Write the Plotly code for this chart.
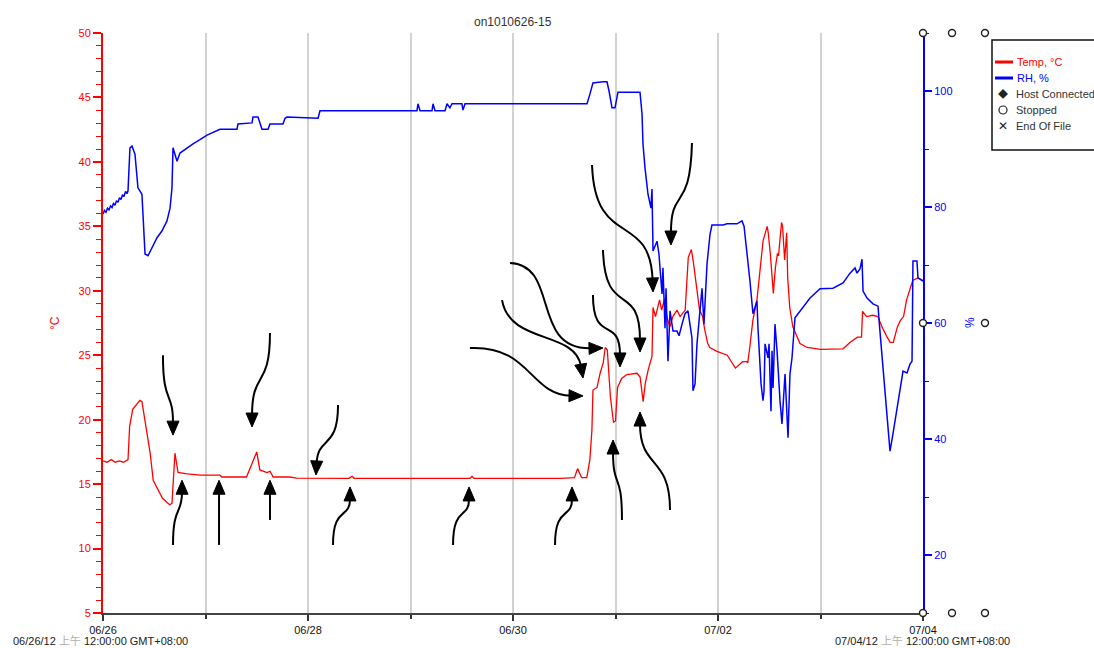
import numpy as np
import pandas as pd
import plotly.graph_objects as go

TITLE = "on1010626-15"
START = pd.Timestamp("2012-06-26")
N_DAYS = 8

# Temperature, time given in days since 06/26 00:00
temp_day = [0.00, 0.04, 0.08, 0.12, 0.16, 0.20, 0.244, 0.26, 0.29, 0.33, 0.36, 0.38, 0.41,
            0.46, 0.49, 0.54, 0.58, 0.65, 0.673, 0.702, 0.732, 0.82, 0.95, 1.14, 1.16,
            1.40, 1.50, 1.53, 1.60, 1.63, 1.66, 1.82, 1.89, 2.40, 2.43, 2.45, 3.58, 3.60,
            3.62, 4.46, 4.60, 4.63, 4.67, 4.72, 4.75, 4.77, 4.78, 4.82, 4.85, 4.88, 4.90,
            4.92, 4.93, 4.95, 4.98, 5.00, 5.02, 5.06, 5.11, 5.21, 5.24, 5.27, 5.29, 5.32,
            5.356, 5.366, 5.39, 5.43, 5.45, 5.48, 5.50, 5.53, 5.56, 5.60, 5.63, 5.68, 5.71,
            5.74, 5.76, 5.80, 5.82, 5.85, 5.87, 5.90, 5.92, 5.99, 6.09, 6.17, 6.24, 6.28,
            6.29, 6.31, 6.34, 6.38, 6.41, 6.44, 6.48, 6.49, 6.51, 6.54, 6.56, 6.58, 6.59,
            6.62, 6.63, 6.65, 6.67, 6.68, 6.70, 6.73, 6.80, 6.87, 7.00, 7.22, 7.29, 7.36,
            7.40, 7.41, 7.45, 7.51, 7.56, 7.60, 7.65, 7.68, 7.71, 7.75, 7.78, 7.81, 7.84,
            7.87, 7.90, 7.95, 8.00]
temp_c = [16.8, 16.7, 16.9, 16.7, 16.8, 16.7, 16.9, 19.5, 20.8, 21.2, 21.5, 21.4, 20.0,
          17.4, 15.3, 14.5, 13.9, 13.4, 13.5, 17.4, 15.9, 15.8, 15.7, 15.7, 15.55,
          15.55, 17.5, 16.1, 15.9, 16.0, 15.55, 15.55, 15.47, 15.45, 15.6, 15.45, 15.45, 15.6,
          15.45, 15.45, 15.5, 16.2, 15.5, 15.5, 16.9, 19.2, 22.3, 22.5, 23.6, 24.4, 25.6,
          25.4, 23.9, 21.8, 19.8, 19.9, 22.5, 23.2, 23.5, 23.6, 23.3, 21.4, 22.8, 23.9,
          24.9, 28.7, 28.0, 29.3, 28.5, 29.4, 28.0, 27.2, 28.0, 28.5, 28.0, 28.5, 32.6,
          33.2, 32.2, 29.5, 28.5, 28.0, 27.0, 25.9, 25.6, 25.3, 25.0, 24.0, 24.5, 24.5,
          24.4, 25.6, 27.7, 29.3, 31.8, 33.9, 35.0, 34.5, 32.9, 29.8, 31.8, 32.9, 32.7,
          35.3, 35.0, 32.4, 34.5, 31.0, 28.7, 27.2, 25.9, 25.6, 25.45, 25.5, 26.0, 26.4,
          26.4, 28.4, 28.0, 28.1, 28.0, 27.2, 26.4, 26.0, 26.0, 27.2, 27.7, 28.0, 29.3,
          30.1, 30.8, 31.0, 30.8]

# Relative humidity, time given in days since 06/26 00:00
rh_day = [0.000, 0.015, 0.029, 0.044, 0.059, 0.073, 0.088, 0.102, 0.117, 0.132, 0.146,
          0.161, 0.176, 0.190, 0.205, 0.220, 0.234, 0.244, 0.263,
          0.283, 0.312, 0.341, 0.380, 0.390, 0.410, 0.439, 0.478, 0.527, 0.576, 0.624,
          0.654, 0.673, 0.683, 0.722, 0.751, 0.820, 0.878, 0.946, 1.015, 1.141, 1.307,
          1.317, 1.454, 1.463, 1.512, 1.551, 1.610, 1.629, 1.756, 1.776, 1.795, 2.098,
          2.117, 3.063, 3.073, 3.093, 3.210, 3.220, 3.239, 3.337, 3.356, 3.385, 3.405,
          3.502, 3.512, 3.532, 4.722, 4.751, 4.780, 4.878, 4.917, 4.937, 4.966, 4.995,
          5.024, 5.239, 5.259, 5.268, 5.288, 5.317, 5.346, 5.356, 5.366, 5.405, 5.424,
          5.434, 5.454, 5.463, 5.483, 5.493, 5.512, 5.532, 5.561, 5.600, 5.620, 5.649,
          5.678, 5.707, 5.746, 5.756, 5.776, 5.795, 5.824, 5.844, 5.863, 5.893, 5.922,
          5.941, 6.049, 6.088, 6.185, 6.234, 6.254, 6.283, 6.312, 6.341, 6.380, 6.390,
          6.420, 6.439, 6.449, 6.459, 6.488, 6.498, 6.517, 6.527, 6.537, 6.556, 6.576,
          6.605, 6.624, 6.654, 6.673, 6.683, 6.702, 6.722, 6.751, 6.829, 6.898, 6.995,
          7.122, 7.220, 7.288, 7.337, 7.356, 7.385, 7.405, 7.415, 7.454, 7.512, 7.561,
          7.580, 7.610, 7.649, 7.678, 7.707, 7.746, 7.776, 7.805, 7.844, 7.873, 7.893,
          7.902, 7.941, 7.951, 8.000]
rh_pct = [78.8, 79.4, 79.1, 79.8, 79.5, 80.2, 79.9, 80.6, 80.3, 81.1, 80.8,
          81.6, 81.3, 82.1, 81.8, 82.7, 82.3, 82.8, 90.2,
          90.5, 89.1, 83.3, 82.2, 78.8, 71.9, 71.6, 72.9, 74.7, 75.9, 77.6,
          79.8, 83.3, 90.2, 87.9, 89.3, 90.2, 90.9, 91.6, 92.4, 93.4, 93.4,
          94.3, 94.5, 95.5, 95.5, 93.4, 93.4, 94.3, 94.3, 95.3, 95.5, 95.3,
          96.6, 96.6, 97.8, 96.6, 96.6, 97.8, 96.6, 96.6, 97.8, 97.1, 97.8,
          97.8, 96.7, 97.8, 97.8, 99.5, 101.4, 101.6, 101.6, 100.0, 97.1, 97.1,
          99.8, 99.8, 96.0, 90.9, 86.7, 82.2, 79.8, 83.1, 72.4, 74.1, 71.9,
          69.5, 65.0, 69.5, 59.1, 66.0, 53.4, 62.1, 58.6, 58.6, 57.8, 59.8,
          61.6, 62.1, 57.4, 48.3, 49.5, 56.4, 62.1, 66.0, 59.8, 70.2, 75.3,
          76.9, 76.9, 77.1, 77.1, 77.6, 76.7, 72.4, 67.2, 61.6, 63.8, 59.1,
          49.5, 46.6, 48.3, 56.4, 54.0, 56.4, 44.8, 55.2, 48.8, 59.8, 55.2,
          46.6, 42.6, 51.2, 43.6, 40.2, 51.2, 54.0, 60.9, 62.6, 64.3, 65.9,
          66.0, 66.9, 68.6, 69.5, 68.6, 69.3, 71.0, 65.5, 64.3, 63.3, 62.9,
          58.6, 52.2, 45.3, 37.9, 40.9, 45.3, 48.8, 51.7, 51.4, 52.9, 53.4,
          70.7, 70.7, 67.8, 67.2]

# Call-out arrows pointing at features of the temperature trace:
# (tail, control 1, control 2, tip) in (day, °C)
callouts = [
    [(0.585, 25.0), (0.585, 21.1), (0.683, 22.3), (0.683, 18.8)],
    [(0.683, 10.28), (0.683, 13.38), (0.771, 12.6), (0.771, 15.3)],
    [(1.132, 10.28), (1.132, 10.28), (1.132, 15.3), (1.132, 15.3)],
    [(1.629, 26.72), (1.629, 22.3), (1.454, 23.9), (1.454, 19.43)],
    [(1.629, 12.22), (1.629, 12.22), (1.629, 15.3), (1.629, 15.3)],
    [(2.293, 21.14), (2.293, 17.6), (2.098, 18.8), (2.078, 15.71)],
    [(2.244, 10.28), (2.244, 13.38), (2.41, 12.22), (2.41, 14.78)],
    [(3.415, 10.28), (3.415, 13.38), (3.571, 12.22), (3.571, 14.78)],
    [(4.41, 10.28), (4.41, 13.38), (4.576, 12.22), (4.576, 14.78)],
    [(3.971, 32.16), (4.459, 32.0), (4.166, 25.41), (4.878, 25.56)],
    [(3.893, 29.28), (3.971, 25.79), (4.605, 26.96), (4.683, 23.23)],
    [(3.58, 25.56), (4.166, 25.79), (4.166, 21.91), (4.683, 21.84)],
    [(4.771, 39.76), (4.8, 33.16), (5.337, 36.27), (5.366, 29.91)],
    [(5.746, 41.47), (5.727, 35.88), (5.541, 38.21), (5.541, 33.55)],
    [(4.878, 33.16), (4.898, 27.73), (5.239, 30.84), (5.239, 25.25)],
    [(4.78, 29.67), (4.78, 25.79), (5.044, 28.12), (5.044, 24.09)],
    [(5.063, 12.22), (5.063, 16.1), (4.976, 14.54), (4.976, 18.42)],
    [(5.532, 12.99), (5.532, 17.26), (5.239, 16.1), (5.239, 20.59)],
]

TEMP_RANGE = [5, 50]
RH_RANGE = [10, 110]
W, H = 1094, 648
M = dict(l=103, r=171, t=33, b=35)
PLOT_W = W - M["l"] - M["r"]
PLOT_H = H - M["t"] - M["b"]
PX_PER_DAY = PLOT_W / N_DAYS
PX_PER_DEG = PLOT_H / (TEMP_RANGE[1] - TEMP_RANGE[0])

FONT = "Liberation Sans, Arial, Noto Sans CJK SC, sans-serif"
RED = "#ff0000"
BLUE = "#0000ff"

fig = go.Figure()
fig.add_trace(go.Scatter(x=temp_day, y=temp_c, mode="lines", name="Temp, °C",
                         line=dict(color=RED, width=1.3), yaxis="y"))
fig.add_trace(go.Scatter(x=rh_day, y=rh_pct, mode="lines", name="RH, %",
                         line=dict(color=BLUE, width=1.5), yaxis="y2"))

major_days = list(range(0, N_DAYS + 1, 2))
minor_days = list(range(1, N_DAYS, 2))
tick_text = [(START + pd.Timedelta(days=d)).strftime("%m/%d") for d in major_days]

fig.update_layout(
    width=W, height=H, margin=M,
    paper_bgcolor="white", plot_bgcolor="white",
    showlegend=False,
    font=dict(family=FONT, size=11, color="#222"),
    xaxis=dict(range=[0, N_DAYS], tickvals=major_days, ticktext=tick_text,
               ticks="outside", ticklen=6, tickwidth=1.5, tickcolor="#333",
               showline=True, linecolor="#444", linewidth=2,
               showgrid=True, gridcolor="#d2d2d2", gridwidth=1.5, zeroline=False,
               tickfont=dict(size=11, color="#111"),
               minor=dict(tickvals=minor_days, ticks="outside", ticklen=4,
                          tickcolor="#333", showgrid=True, gridcolor="#d2d2d2",
                          gridwidth=1.5)),
    yaxis=dict(range=TEMP_RANGE, tickvals=list(range(5, 51, 5)), ticks="outside",
               ticklen=8, tickwidth=1.5, tickcolor=RED, showline=True, linecolor=RED,
               linewidth=2, showgrid=False, zeroline=False,
               tickfont=dict(size=11, color=RED),
               minor=dict(dtick=1, tick0=5, ticks="outside", ticklen=5, tickcolor=RED,
                          tickwidth=1.2)),
    yaxis2=dict(range=RH_RANGE, tickvals=list(range(20, 101, 20)), overlaying="y",
                side="right", ticks="outside", ticklen=7, tickwidth=1.5, tickcolor=BLUE,
                showline=True, linecolor=BLUE, linewidth=2, showgrid=False,
                zeroline=False, tickfont=dict(size=11, color=BLUE),
                minor=dict(dtick=10, tick0=10, ticks="outside", ticklen=4,
                           tickcolor=BLUE, tickwidth=1.2)),
)

# Call-out arrows: bezier shaft plus filled triangular head
HEAD_LEN, HEAD_HALF = 14.0, 6.0
shapes = []
for (p0, p1, p2, p3) in callouts:
    ref = p2 if (p2[0] != p3[0] or p2[1] != p3[1]) else p1
    dx = (p3[0] - ref[0]) * PX_PER_DAY
    dy = (p3[1] - ref[1]) * PX_PER_DEG
    n = np.hypot(dx, dy)
    ux, uy = dx / n, dy / n
    bx = p3[0] - ux * HEAD_LEN / PX_PER_DAY
    by = p3[1] - uy * HEAD_LEN / PX_PER_DEG
    lx, ly = -uy * HEAD_HALF / PX_PER_DAY, ux * HEAD_HALF / PX_PER_DEG
    c2 = p2 if ref is p2 else (bx, by)
    shaft = (f"M{p0[0]},{p0[1]} C{p1[0]},{p1[1]} {c2[0]},{c2[1]} "
             f"{bx + ux * 2 / PX_PER_DAY},{by + uy * 2 / PX_PER_DEG}")
    shapes.append(dict(type="path", xref="x", yref="y", path=shaft,
                       line=dict(color="black", width=2), layer="above"))
    head = (f"M{p3[0]},{p3[1]} L{bx + lx},{by + ly} L{bx - lx},{by - ly} Z")
    shapes.append(dict(type="path", xref="x", yref="y", path=head,
                       fillcolor="black", line=dict(color="black", width=1), layer="above"))


def px(xp, yp):
    """Pixel position on the page -> paper coordinates."""
    return (xp - M["l"]) / PLOT_W, (H - M["b"] - yp) / PLOT_H


# Stop markers along the plot edges
for (xx, yy) in [(923, 33), (952, 33), (985, 33), (923, 613), (952, 613), (985, 613),
                 (923, 323), (985, 323)]:
    ax_, ay_ = px(xx, yy)
    shapes.append(dict(type="circle", xref="paper", yref="paper",
                       xsizemode="pixel", ysizemode="pixel", xanchor=ax_, yanchor=ay_,
                       x0=-3.5, x1=3.5, y0=-3.5, y1=3.5,
                       line=dict(color="#222", width=1.4), fillcolor="white"))

# Legend box
bx0, by0 = px(992, 150)
bx1, by1 = px(1110, 40)
shapes.append(dict(type="rect", xref="paper", yref="paper", x0=bx0, y0=by0, x1=bx1, y1=by1,
                   line=dict(color="#111", width=1.5), fillcolor="white"))
for yy, col in [(62, RED), (78, BLUE)]:
    a0, b0 = px(995, yy)
    a1, _ = px(1013, yy)
    shapes.append(dict(type="line", xref="paper", yref="paper", x0=a0, x1=a1, y0=b0, y1=b0,
                       line=dict(color=col, width=3)))
# "Stopped" legend symbol
sx, sy = px(1003, 110)
shapes.append(dict(type="circle", xref="paper", yref="paper",
                   xsizemode="pixel", ysizemode="pixel", xanchor=sx, yanchor=sy,
                   x0=-4, x1=4, y0=-4, y1=4, line=dict(color="#222", width=1.2),
                   fillcolor="white"))

annotations = []


def label(xp, yp, text, color="#222", size=11, xanchor="left", angle=0):
    a, b = px(xp, yp)
    annotations.append(dict(x=a, y=b, xref="paper", yref="paper", text=text,
                            showarrow=False, xanchor=xanchor, yanchor="middle",
                            textangle=angle, font=dict(size=size, color=color, family=FONT)))


label(1015, 62, "Temp, °C", RED)
label(1015, 78, "RH, %", BLUE)
label(1003, 94, "◆", "#222", 10, "center")
label(1003, 126, "✕", "#222", 12, "center")
label(1014, 94, "Host Connected", "#333")
label(1014, 110, "Stopped", "#333")
label(1014, 126, "End Of File", "#333")

label(513, 22, TITLE, "#333", 12, "center")
label(55, 323, "°C", RED, 12, "center", -90)
label(970, 323, "%", BLUE, 12, "center", -90)

stamp = "{d} <span style='color:#b0b0b0'>上午</span> 12:00:00 GMT+08:00"
label(11, 641, stamp.format(d=START.strftime("%m/%d/%y")), "#222", 11, "left")
label(833, 641, stamp.format(d=(START + pd.Timedelta(days=N_DAYS)).strftime("%m/%d/%y")),
      "#222", 11, "left")

fig.update_layout(shapes=shapes, annotations=annotations)
fig.write_html("out.html")
